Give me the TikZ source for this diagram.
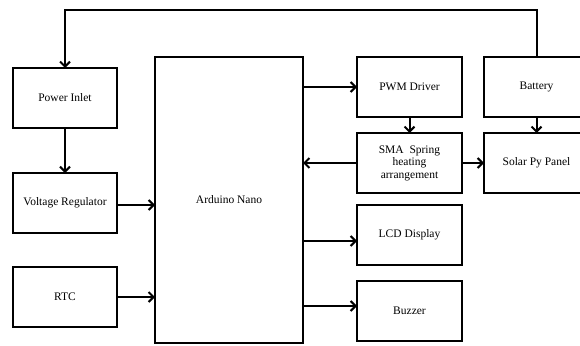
\documentclass[tikz,border=0pt]{standalone}
\usepackage{fontspec}
\setmainfont{Liberation Serif}
\usetikzlibrary{arrows.meta,positioning}
\tikzset{
  unit/.style={draw, line width=2pt, align=center, minimum width=105pt, minimum height=60pt, inner sep=2pt, outer sep=0pt, font=\fontsize{11.5}{12.5}\selectfont},
  mcu/.style={unit, minimum width=148pt, minimum height=286pt},
  flow/.style={-{Straight Barb[length=5pt,width=10pt]}, line width=2pt}
}
\begin{document}
\begin{tikzpicture}[x=1pt, y=-1pt]
  \useasboundingbox (0,0) rectangle (580,345);
  % Supply side
  \node[unit, minimum width=104pt] (power) at (65,98) {Power Inlet};
  \node[unit, minimum width=104pt, below=45pt of power] (vreg) {Voltage Regulator};
  \node[unit, minimum width=104pt, below=34pt of vreg] (rtc) {RTC};

  % Controller
  \node[mcu] (nano) at (229,200) {Arduino Nano};

  % Actuation / outputs
  \node[unit] (pwm) at (409.5,87) {PWM Driver};
  \node[unit, below=16pt of pwm] (sma) {SMA\ \ Spring\\heating\\arrangement};
  \node[unit, below=12pt of sma] (lcd) {LCD Display};
  \node[unit, below=16pt of lcd] (buzzer) {Buzzer};

  % Energy
  \node[unit, right=22pt of pwm] (battery) {Battery};
  \node[unit, below=16pt of battery] (solar) {Solar Py Panel};

  % Flows
  \draw[flow] (battery.north) -- ++(0,-47) -| (power.north);
  \draw[flow] (power) -- (vreg);
  \draw[flow] ([yshift=-2pt]vreg.east) -- ([yshift=-2pt]vreg.east -| nano.west);
  \draw[flow] (rtc.east) -- (rtc.east -| nano.west);
  \draw[flow] (nano.east |- pwm.west) -- (pwm.west);
  \draw[flow] (pwm) -- (sma);
  \draw[flow] (sma.west) -- (sma.west -| nano.east);
  \draw[flow] (sma) -- (solar);
  \draw[flow] (battery) -- (solar);
  \draw[flow] ([yshift=-6pt]nano.east |- lcd.west) -- ([yshift=-6pt]lcd.west);
  \draw[flow] ([yshift=5pt]nano.east |- buzzer.west) -- ([yshift=5pt]buzzer.west);
\end{tikzpicture}
\end{document}
